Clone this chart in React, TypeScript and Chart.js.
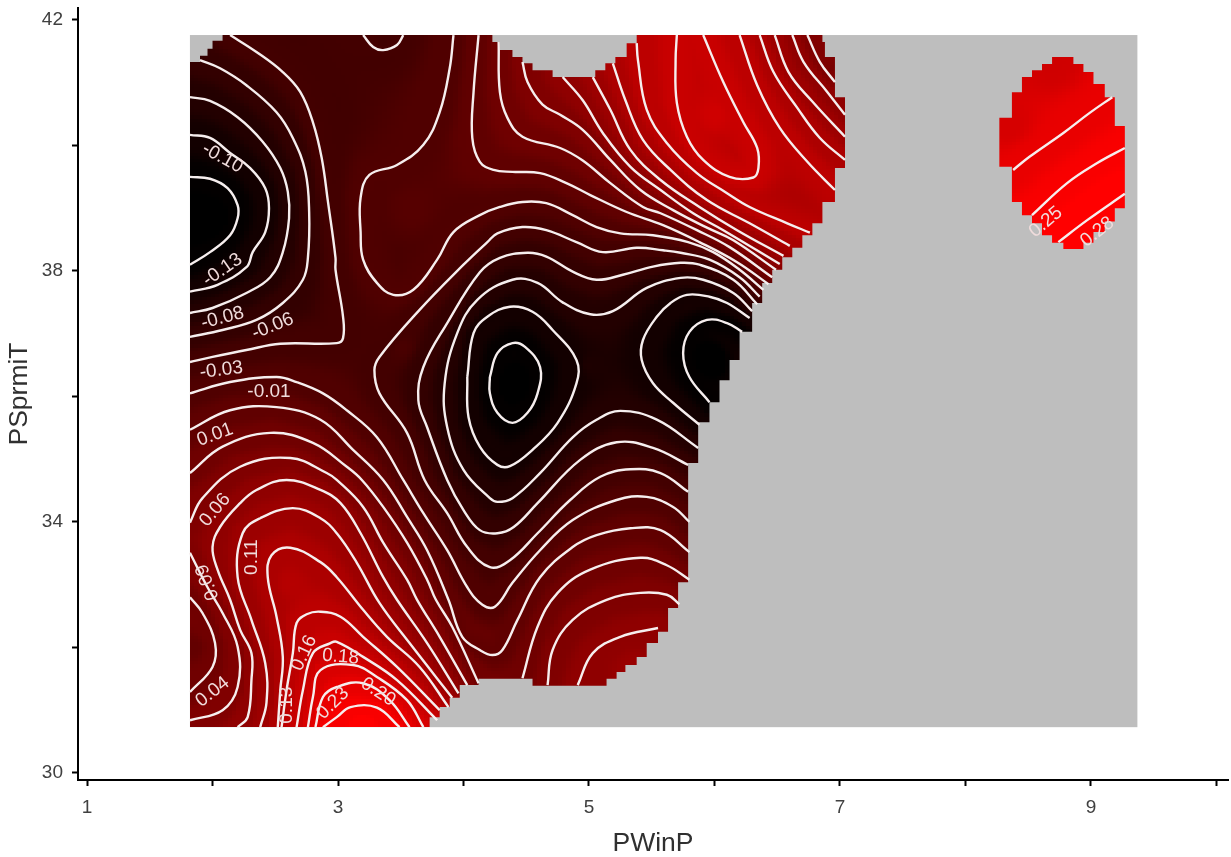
import React, { useEffect, useRef } from "react";
import { Chart, registerables } from "chart.js";

Chart.register(...registerables);

const FONT = "'Liberation Sans', Arial, sans-serif";

// Axes
const xBounds = [0.928, 10.092];
const yBounds = [29.888, 42.191];
const xTickValues = [1, 2, 3, 4, 5, 6, 7, 8, 9, 10];
const xTickLabels = ["1", "", "3", "", "5", "", "7", "", "9", ""];
const yTickValues = [30, 32, 34, 36, 38, 40, 42];
const yTickLabels = ["30", "", "34", "", "38", "", "42"];
const xTitle = "PWinP";
const yTitle = "PSprmiT";

// Extent of the sampled domain
const domainX = [1.82, 9.37];
const domainY = [30.73, 41.76];

// Outline of the region that has data (staircase edge of the grid)
const mainRegion = [
  [1.82, 41.33], [1.9, 41.33], [1.9, 41.43], [1.96, 41.43], [1.96, 41.54], [2.0, 41.54], [2.0, 41.67], [2.08, 41.67], [2.08, 41.76],
  [4.23, 41.76], [4.23, 41.65], [4.29, 41.65], [4.29, 41.52], [4.39, 41.52], [4.39, 41.41], [4.47, 41.41], [4.47, 41.31], [4.55, 41.31], [4.55, 41.2], [4.71, 41.2], [4.71, 41.09],
  [5.05, 41.09], [5.05, 41.2], [5.13, 41.2], [5.13, 41.31], [5.21, 41.31], [5.21, 41.41], [5.3, 41.41], [5.3, 41.63], [5.38, 41.63], [5.38, 41.76],
  [6.86, 41.76], [6.86, 41.65], [6.88, 41.65], [6.88, 41.41], [6.96, 41.41], [6.96, 40.77], [7.04, 40.77], [7.04, 39.64], [6.96, 39.64], [6.96, 39.1], [6.86, 39.1], [6.86, 38.76],
  [6.78, 38.76], [6.78, 38.57], [6.7, 38.57], [6.7, 38.37], [6.62, 38.37], [6.62, 38.22], [6.54, 38.22], [6.54, 38.02], [6.46, 38.02], [6.46, 37.81], [6.38, 37.81], [6.38, 37.49],
  [6.3, 37.49], [6.3, 37.03], [6.2, 37.03], [6.2, 36.58], [6.12, 36.58], [6.12, 36.26], [6.04, 36.26], [6.04, 35.91], [5.96, 35.91], [5.96, 35.59], [5.87, 35.59], [5.87, 34.94],
  [5.79, 34.94], [5.79, 33.04], [5.71, 33.04], [5.71, 32.63], [5.63, 32.63], [5.63, 32.25], [5.55, 32.25], [5.55, 32.07], [5.46, 32.07], [5.46, 31.85], [5.38, 31.85], [5.38, 31.72],
  [5.29, 31.72], [5.29, 31.61], [5.22, 31.61], [5.22, 31.5], [5.14, 31.5], [5.14, 31.39], [4.55, 31.39], [4.55, 31.5], [4.12, 31.5], [4.12, 31.4], [3.97, 31.4], [3.97, 31.2],
  [3.89, 31.2], [3.89, 31.05], [3.81, 31.05], [3.81, 30.89], [3.73, 30.89], [3.73, 30.73], [1.82, 30.73],
];
const islandRegion = [
  [8.69, 41.41], [8.86, 41.41], [8.86, 41.3], [8.94, 41.3], [8.94, 41.17], [9.02, 41.17], [9.02, 40.98], [9.11, 40.98], [9.11, 40.77], [9.19, 40.77], [9.19, 40.31], [9.27, 40.31],
  [9.27, 39.0], [9.19, 39.0], [9.19, 38.79], [9.11, 38.79], [9.11, 38.62], [9.02, 38.62], [9.02, 38.45], [8.94, 38.45], [8.94, 38.35], [8.78, 38.35], [8.78, 38.45], [8.69, 38.45],
  [8.69, 38.57], [8.61, 38.57], [8.61, 38.76], [8.53, 38.76], [8.53, 38.89], [8.45, 38.89], [8.45, 39.1], [8.37, 39.1], [8.37, 39.66], [8.27, 39.66], [8.27, 40.44], [8.37, 40.44],
  [8.37, 40.85], [8.45, 40.85], [8.45, 41.09], [8.53, 41.09], [8.53, 41.2], [8.61, 41.2], [8.61, 41.3], [8.69, 41.3],
];

// Isolines
const m13a = [[1.82, 39.5], [1.98, 39.47], [2.12, 39.32], [2.2, 39.05], [2.2, 38.84], [2.14, 38.57], [1.98, 38.3], [1.82, 38.1]];
const m13b = [[4.21, 36.31], [4.27, 36.69], [4.39, 36.85], [4.49, 36.79], [4.61, 36.47], [4.59, 36.05], [4.51, 35.74], [4.39, 35.58], [4.27, 35.74], [4.21, 36.05], [4.21, 36.31]];
const m13c = [[6.22, 37.03], [6.1, 37.17], [5.94, 37.22], [5.8, 37.03], [5.75, 36.69], [5.8, 36.31], [5.96, 35.91]];
const m10a = [[1.82, 40.17], [1.98, 40.12], [2.14, 39.88], [2.3, 39.64], [2.42, 39.32], [2.45, 39.0], [2.42, 38.62], [2.32, 38.3], [2.27, 38.06], [2.04, 37.78], [1.82, 37.67]];
const m10b = [[4.03, 36.31], [4.08, 37.01], [4.19, 37.27], [4.37, 37.43], [4.55, 37.35], [4.71, 37.06], [4.9, 36.58], [4.9, 36.21], [4.75, 35.58], [4.55, 35.15], [4.37, 34.89], [4.27, 34.91], [4.13, 35.2], [4.04, 35.67], [4.03, 36.31]];
const m10c = [[6.28, 37.25], [6.1, 37.49], [5.96, 37.59], [5.78, 37.62], [5.65, 37.49], [5.54, 37.27], [5.43, 36.9], [5.42, 36.58], [5.51, 36.21], [5.67, 35.9], [5.88, 35.55]];
const m08a = [[1.82, 40.77], [1.98, 40.71], [2.2, 40.45], [2.4, 40.06], [2.54, 39.64], [2.6, 39.26], [2.61, 38.84], [2.56, 38.3], [2.46, 37.9], [2.27, 37.65], [2.0, 37.41], [1.82, 37.33]];
const m08b = [[6.3, 37.36], [6.15, 37.65], [5.91, 37.86], [5.73, 37.89], [5.46, 37.73], [5.19, 37.36], [5.01, 37.31], [4.79, 37.5], [4.59, 37.81], [4.39, 37.86], [4.11, 37.54], [3.95, 37.01], [3.85, 36.21], [3.87, 35.51], [4.0, 34.83], [4.21, 34.38], [4.27, 34.32], [4.39, 34.38], [4.61, 34.78], [4.87, 35.35], [5.06, 35.63], [5.25, 35.77], [5.54, 35.63], [5.87, 35.18]];
const m06a = [[1.9, 41.36], [2.06, 41.23], [2.27, 40.96], [2.51, 40.53], [2.64, 40.12], [2.74, 39.58], [2.77, 38.94], [2.76, 38.21], [2.72, 37.86], [2.56, 37.49], [2.35, 37.22], [2.08, 37.06], [1.82, 36.95]];
const m06b = [[6.34, 37.47], [6.15, 37.86], [5.88, 38.1], [5.73, 38.13], [5.51, 38.07], [5.27, 37.94], [5.06, 37.86], [4.87, 37.99], [4.66, 38.23], [4.51, 38.29], [4.29, 38.21], [4.13, 37.98], [3.87, 37.17], [3.68, 36.47], [3.64, 35.94], [3.71, 35.51], [3.87, 34.67], [4.0, 34.19], [4.13, 33.87], [4.27, 33.82], [4.4, 33.92], [4.59, 34.3], [4.93, 34.99], [5.22, 35.27], [5.51, 35.18], [5.79, 34.91]];
const m03a = [[2.14, 41.76], [2.35, 41.49], [2.56, 41.17], [2.7, 40.85], [2.8, 40.37], [2.87, 39.8], [2.92, 39.1], [2.98, 38.21], [2.98, 38.02], [3.04, 37.27], [3.04, 36.93], [2.99, 36.85], [2.54, 36.84], [2.27, 36.74], [2.0, 36.63], [1.82, 36.55]];
const m03b = [[3.2, 41.76], [3.28, 41.57], [3.36, 41.52], [3.47, 41.6], [3.52, 41.76]];
const m03c = [[6.36, 37.59], [6.2, 37.9], [5.96, 38.18], [5.73, 38.29], [5.59, 38.33], [5.38, 38.37], [5.11, 38.3], [4.9, 38.46], [4.66, 38.65], [4.47, 38.7], [4.27, 38.6], [4.19, 38.46], [4.0, 38.1], [3.65, 37.38], [3.33, 36.63], [3.29, 36.42], [3.33, 36.05], [3.55, 35.42], [3.69, 34.67], [3.87, 34.14], [4.03, 33.6], [4.21, 33.28], [4.37, 33.39], [4.59, 33.82], [4.85, 34.35], [5.09, 34.72], [5.33, 34.84], [5.57, 34.78], [5.79, 34.48]];
const m01a = [[1.82, 36.05], [2.14, 36.23], [2.51, 36.31], [2.67, 36.23], [2.88, 36.05], [3.07, 35.78], [3.31, 35.35], [3.52, 34.67], [3.68, 34.14], [3.87, 33.55], [4.03, 32.96], [4.15, 32.68], [4.25, 32.65], [4.39, 33.03], [4.61, 33.55], [4.87, 34.03], [5.22, 34.35], [5.46, 34.4], [5.67, 34.24], [5.8, 34.0]];
const m01b = [[3.92, 41.76], [3.89, 41.23], [3.81, 40.53], [3.68, 40.01], [3.47, 39.69], [3.25, 39.53], [3.18, 39.17], [3.18, 38.62], [3.2, 38.18], [3.31, 37.81], [3.44, 37.62], [3.6, 37.7], [3.79, 38.18], [3.92, 38.62], [4.13, 38.89], [4.29, 39.02], [4.47, 39.1], [4.66, 39.08], [4.87, 38.89], [5.06, 38.7], [5.25, 38.6], [5.51, 38.57], [5.79, 38.46], [5.99, 38.3], [6.2, 38.02], [6.39, 37.7]];
const p01a = [[1.82, 35.47], [2.14, 35.78], [2.51, 35.83], [2.86, 35.63], [3.12, 35.15], [3.36, 34.67], [3.55, 34.08], [3.71, 33.55], [3.88, 32.76], [3.99, 32.17], [4.13, 31.96], [4.23, 31.88], [4.31, 31.96], [4.43, 32.44], [4.61, 33.12], [4.87, 33.6], [5.06, 33.79], [5.33, 33.9], [5.57, 33.87], [5.8, 33.52]];
const p01b = [[4.12, 41.76], [4.08, 40.85], [4.07, 40.12], [4.13, 39.74], [4.24, 39.61], [4.39, 39.58], [4.61, 39.56], [4.82, 39.4], [5.01, 39.21], [5.3, 38.94], [5.59, 38.73], [5.88, 38.46], [6.18, 38.14], [6.43, 37.79]];
const p04a = [[1.82, 34.78], [2.08, 35.2], [2.46, 35.42], [2.8, 35.26], [3.07, 34.88], [3.19, 34.67], [3.36, 34.24], [3.55, 33.67], [3.71, 33.08], [3.78, 32.76], [3.91, 32.33], [4.12, 31.43]];
const p04b = [[4.47, 31.51], [4.59, 32.33], [4.75, 32.87], [5.01, 33.24], [5.41, 33.43], [5.62, 33.31], [5.8, 33.08]];
const p04c = [[1.82, 32.8], [1.92, 32.55], [2.02, 32.07], [2.0, 31.69], [1.82, 31.29]];
const p04d = [[4.28, 41.65], [4.29, 40.85], [4.35, 40.44], [4.47, 40.14], [4.77, 39.96], [4.95, 39.76], [5.17, 39.4], [5.43, 39.02], [5.57, 38.92], [5.86, 38.65], [6.12, 38.38], [6.46, 37.9]];
const p06a = [[1.82, 33.99], [1.92, 34.38], [2.22, 34.88], [2.62, 35.02], [2.91, 34.78], [2.99, 34.67], [3.2, 34.24], [3.36, 33.67], [3.55, 33.08], [3.63, 32.76], [3.81, 32.17], [4.03, 31.4]];
const p06b = [[1.82, 33.51], [1.96, 32.96], [2.08, 32.55], [2.2, 32.01], [2.2, 31.37], [2.08, 31.0], [1.82, 30.84]];
const p06c = [[4.67, 31.4], [4.71, 31.96], [4.87, 32.44], [5.14, 32.76], [5.41, 32.87], [5.62, 32.84], [5.72, 32.69]];
const p06d = [[4.47, 41.33], [4.51, 41.01], [4.63, 40.65], [4.77, 40.49], [4.95, 40.25], [5.17, 39.77], [5.41, 39.29], [5.67, 38.97], [5.94, 38.69], [6.15, 38.49], [6.49, 38.02]];
const p06e = [[6.74, 41.76], [6.84, 41.33], [6.96, 41.01]];
const p09a = [[2.2, 30.73], [2.28, 30.89], [2.31, 31.48], [2.31, 31.91], [2.22, 32.28], [2.14, 32.76], [2.04, 33.24], [2.0, 33.6], [2.06, 33.92], [2.22, 34.3], [2.35, 34.51], [2.59, 34.67], [2.86, 34.51], [3.02, 34.3], [3.18, 33.82], [3.36, 33.12], [3.47, 32.76], [3.71, 32.07], [3.96, 31.27]];
const p09b = [[4.91, 31.4], [5.03, 31.91], [5.25, 32.17], [5.55, 32.31]];
const p09c = [[4.79, 41.09], [4.95, 40.72], [5.11, 40.2], [5.33, 39.66], [5.57, 39.29], [5.83, 38.92], [6.07, 38.65], [6.52, 38.11]];
const p09d = [[6.62, 41.76], [6.71, 41.33], [6.9, 40.85], [7.04, 40.49]];
const p11a = [[2.38, 30.73], [2.43, 31.12], [2.42, 31.75], [2.31, 32.44], [2.2, 33.12], [2.24, 33.82], [2.38, 34.06], [2.64, 34.22], [2.86, 34.06], [2.99, 33.82], [3.15, 33.35], [3.33, 32.71], [3.57, 32.07], [3.91, 31.2]];
const p11b = [[5.03, 41.09], [5.17, 40.57], [5.33, 39.93], [5.57, 39.45], [5.88, 39.02], [6.18, 38.65], [6.55, 38.24]];
const p11c = [[6.48, 41.76], [6.59, 41.17], [6.78, 40.7], [7.04, 40.14]];
const p13a = [[2.52, 30.73], [2.54, 31.32], [2.56, 31.85], [2.51, 32.49], [2.44, 33.12], [2.47, 33.47], [2.62, 33.59], [2.86, 33.36], [2.99, 33.12], [3.2, 32.6], [3.39, 32.17], [3.65, 31.69], [3.88, 31.05]];
const p13b = [[5.19, 41.31], [5.29, 40.72], [5.43, 40.09], [5.65, 39.61], [5.94, 39.13], [6.28, 38.76], [6.6, 38.4]];
const p13c = [[6.36, 41.76], [6.47, 41.17], [6.66, 40.6], [6.84, 40.12], [7.04, 39.77]];
const p16a = [[2.55, 30.73], [2.59, 31.32], [2.64, 31.91], [2.67, 32.39], [2.75, 32.53], [2.86, 32.57], [3.02, 32.49], [3.2, 32.17], [3.47, 31.69], [3.81, 31.0]];
const p16b = [[5.38, 41.63], [5.39, 41.36], [5.46, 40.57], [5.62, 40.04], [5.86, 39.56], [6.1, 39.24], [6.28, 39.02], [6.58, 38.76], [6.76, 38.61]];
const p16c = [[6.2, 41.76], [6.34, 40.96], [6.52, 40.28], [6.74, 39.74], [6.96, 39.29]];
const p18a = [[2.67, 30.73], [2.72, 31.32], [2.8, 31.91], [2.94, 32.07], [2.99, 32.09], [3.2, 31.85], [3.47, 31.48], [3.79, 30.84]];
const p18b = [[5.7, 41.76], [5.69, 41.36], [5.7, 40.68], [5.78, 40.14], [5.91, 39.77], [6.12, 39.5], [6.31, 39.49], [6.35, 39.64], [6.34, 39.96], [6.23, 40.37], [6.07, 41.01], [5.91, 41.76]];
const p20a = [[2.76, 30.73], [2.8, 31.21], [2.86, 31.64], [3.12, 31.72], [3.31, 31.53], [3.55, 31.16], [3.68, 30.73]];
const p23a = [[2.82, 30.73], [2.88, 31.21], [2.99, 31.37], [3.2, 31.43], [3.41, 31.16], [3.57, 30.73]];
const p23b = [[8.38, 39.61], [8.51, 39.82], [8.78, 40.2], [8.99, 40.52], [9.17, 40.77]];
const p25a = [[2.88, 30.73], [2.99, 30.89], [3.1, 31.05], [3.31, 31.04], [3.49, 30.73]];
const p25b = [[8.53, 38.89], [8.81, 39.4], [9.05, 39.72], [9.27, 39.96]];
const p28a = [[8.74, 38.46], [8.97, 38.81], [9.27, 39.23]];

const isolines: [number, number[][]][] = [
  [-0.13, m13a], [-0.13, m13b], [-0.13, m13c],
  [-0.105, m10a], [-0.105, m10b], [-0.105, m10c],
  [-0.08, m08a], [-0.08, m08b],
  [-0.055, m06a], [-0.055, m06b],
  [-0.03, m03a], [-0.03, m03b], [-0.03, m03c],
  [-0.01, m01a], [-0.01, m01b],
  [0.015, p01a], [0.015, p01b],
  [0.04, p04a], [0.04, p04b], [0.04, p04c], [0.04, p04d],
  [0.065, p06a], [0.065, p06b], [0.065, p06c], [0.065, p06d], [0.065, p06e],
  [0.09, p09a], [0.09, p09b], [0.09, p09c], [0.09, p09d],
  [0.11, p11a], [0.11, p11b], [0.11, p11c],
  [0.135, p13a], [0.135, p13b], [0.135, p13c],
  [0.16, p16a], [0.16, p16b], [0.16, p16c],
  [0.18, p18a], [0.18, p18b],
  [0.205, p20a],
  [0.23, p23a], [0.23, p23b],
  [0.255, p25a], [0.255, p25b],
  [0.28, p28a],
];

// Extra spot readings: the field value inside areas no isoline crosses
const spotX = [1.85, 2.0, 4.4, 5.95, 6.0, 3.2, 8.7, 8.35, 9.2, 8.9, 1.85, 2.6, 5.35, 3.36, 6.92, 3.5, 3.6, 5.0];
const spotY = [38.8, 38.8, 36.2, 36.6, 40.5, 30.75, 41.3, 40.3, 38.9, 38.4, 32.0, 33.0, 31.7, 41.6, 41.2, 36.8, 39.0, 36.5];
const spotZ = [-0.16, -0.15, -0.155, -0.15, 0.19, 0.28, 0.19, 0.2, 0.3, 0.3, 0.02, 0.15, 0.105, -0.035, 0.05, -0.02, 0.0, -0.09];

// Contour labels
const labelTexts = ["-0.10", "-0.13", "-0.08", "-0.06", "-0.03", "-0.01", "0.01", "0.06", "0.09", "0.11", "0.16", "0.13", "0.18", "0.20", "0.23", "0.04", "0.25", "0.28"];
const labelX = [2.08, 2.08, 2.08, 2.48, 2.07, 2.45, 2.02, 2.02, 1.96, 2.31, 2.73, 2.59, 3.02, 3.32, 2.96, 2.0, 8.64, 9.05];
const labelY = [39.8, 38.02, 37.25, 37.12, 36.42, 36.07, 35.39, 34.19, 33.04, 33.44, 31.91, 31.08, 31.85, 31.29, 31.11, 31.29, 38.78, 38.62];
const labelAngle = [29, -35, -15, -22, -7, 0, -20, -50, -110, -90, -65, -90, 5, 33, -45, -38, -40, -38];

const gridStepX = 1 / 30;
const gridStepY = 1 / 20;

const redFor = (z: number) => {
  const t = Math.max(0, Math.min(1, (z + 0.135) / 0.4));
  return `rgb(${Math.round(t * 255)},0,0)`;
};

const tracePolygon = (ctx: any, sx: any, sy: any, poly: number[][]) => {
  poly.forEach(([x, y], i) => {
    const px = sx.getPixelForValue(x);
    const py = sy.getPixelForValue(y);
    if (i === 0) ctx.moveTo(px, py);
    else ctx.lineTo(px, py);
  });
  ctx.closePath();
};

const fieldPlugin = {
  id: "field",
  beforeDatasetsDraw(chart: any) {
    const { ctx, scales } = chart;
    const sx = scales.x;
    const sy = scales.y;
    const X = (v: number) => sx.getPixelForValue(v);
    const Y = (v: number) => sy.getPixelForValue(v);
    ctx.save();
    ctx.fillStyle = "#bebebe";
    ctx.fillRect(X(domainX[0]), Y(domainY[1]), X(domainX[1]) - X(domainX[0]), Y(domainY[0]) - Y(domainY[1]));

    const build = (poly: number[][], keep: (x: number) => boolean) => {
      const lines = isolines
        .filter(([, pts]) => keep(pts[0][0]))
        .map(([z, pts]) => ({ z, p: pts.map(([a, b]) => [X(a), Y(b)]) }));
      const spots = spotX
        .map((x, i) => ({ x: X(x), y: Y(spotY[i]), z: spotZ[i], keep: keep(x) }))
        .filter((s) => s.keep);
      const xs = poly.map((p) => p[0]);
      const ys = poly.map((p) => p[1]);
      const x0 = Math.min(...xs);
      const x1 = Math.max(...xs);
      const y0 = Math.min(...ys);
      const y1 = Math.max(...ys);
      ctx.save();
      ctx.beginPath();
      tracePolygon(ctx, sx, sy, poly);
      ctx.clip();
      const nx = Math.ceil((x1 - x0) / gridStepX);
      const ny = Math.ceil((y1 - y0) / gridStepY);
      for (let i = 0; i < nx; i++) {
        const l = Math.round(X(x0 + i * gridStepX));
        const r = Math.round(X(x0 + (i + 1) * gridStepX));
        const cx = (l + r) / 2;
        for (let j = 0; j < ny; j++) {
          const b = Math.round(Y(y0 + j * gridStepY));
          const t = Math.round(Y(y0 + (j + 1) * gridStepY));
          const cy = (b + t) / 2;
          let sw = 0;
          let sz = 0;
          for (const ln of lines) {
            let best = 1e12;
            const p = ln.p;
            for (let k = 0; k + 1 < p.length; k++) {
              const ax = p[k][0];
              const ay = p[k][1];
              const dx = p[k + 1][0] - ax;
              const dy = p[k + 1][1] - ay;
              const len = dx * dx + dy * dy || 1;
              let u = ((cx - ax) * dx + (cy - ay) * dy) / len;
              u = u < 0 ? 0 : u > 1 ? 1 : u;
              const ex = ax + u * dx - cx;
              const ey = ay + u * dy - cy;
              const d = ex * ex + ey * ey;
              if (d < best) best = d;
            }
            const w = 1 / Math.pow(best + 0.5, 1.5);
            sw += w;
            sz += w * ln.z;
          }
          for (const s of spots) {
            const ex = s.x - cx;
            const ey = s.y - cy;
            const w = 1 / Math.pow(ex * ex + ey * ey + 0.5, 1.5);
            sw += w;
            sz += w * s.z;
          }
          ctx.fillStyle = redFor(sz / sw);
          ctx.fillRect(l, t, r - l, b - t);
        }
      }
      ctx.restore();
    };
    build(mainRegion, (x) => x < 7.5);
    build(islandRegion, (x) => x >= 7.5);
    ctx.restore();
  },
  afterDatasetsDraw(chart: any) {
    const { ctx, scales } = chart;
    ctx.save();
    ctx.font = `19px ${FONT}`;
    ctx.fillStyle = "#f0dcdc";
    ctx.textAlign = "center";
    ctx.textBaseline = "middle";
    labelTexts.forEach((text, i) => {
      ctx.save();
      ctx.translate(scales.x.getPixelForValue(labelX[i]), scales.y.getPixelForValue(labelY[i]));
      ctx.rotate((labelAngle[i] * Math.PI) / 180);
      ctx.fillText(text, 0, 0);
      ctx.restore();
    });
    ctx.restore();
  },
};

const noPadding = (s: any) => {
  s.paddingTop = 0;
  s.paddingBottom = 0;
  s.paddingLeft = 0;
  s.paddingRight = 0;
};

export default function App() {
  const ref = useRef<HTMLCanvasElement>(null);
  useEffect(() => {
    const chart = new Chart(ref.current as HTMLCanvasElement, {
      type: "scatter",
      data: {
        datasets: isolines.map(([z, pts]) => ({
          label: String(z),
          data: pts.map(([x, y]) => ({ x, y })),
          showLine: true,
          borderColor: "#f6eeee",
          borderWidth: 2.4,
          pointRadius: 0,
          tension: 0.4,
          fill: false,
        })),
      },
      options: {
        animation: false,
        responsive: false,
        layout: { padding: { top: 8, right: 3, left: 0, bottom: 0 } },
        plugins: { legend: { display: false }, tooltip: { enabled: false } },
        scales: {
          x: {
            type: "linear",
            min: xBounds[0],
            max: xBounds[1],
            afterBuildTicks: (s: any) => {
              s.ticks = xTickValues.map((value) => ({ value }));
            },
            afterFit: (s: any) => {
              s.height = 77;
              noPadding(s);
            },
            grid: { drawOnChartArea: false, color: "#000", tickLength: 6, tickWidth: 2 },
            border: { color: "#000", width: 2 },
            ticks: {
              autoSkip: false,
              maxRotation: 0,
              padding: 10,
              color: "#404040",
              font: { family: FONT, size: 19 },
              callback: (v: any) => xTickLabels[xTickValues.indexOf(v)] ?? "",
            },
            title: { display: true, text: xTitle, color: "#303030", font: { family: FONT, size: 26.5, lineHeight: 1 }, padding: 0 },
          },
          y: {
            type: "linear",
            min: yBounds[0],
            max: yBounds[1],
            afterBuildTicks: (s: any) => {
              s.ticks = yTickValues.map((value) => ({ value }));
            },
            afterFit: (s: any) => {
              s.width = 78;
              noPadding(s);
            },
            grid: { drawOnChartArea: false, color: "#000", tickLength: 6, tickWidth: 2 },
            border: { color: "#000", width: 2 },
            ticks: {
              autoSkip: false,
              padding: 9,
              color: "#404040",
              font: { family: FONT, size: 19 },
              callback: (v: any) => yTickLabels[yTickValues.indexOf(v)] ?? "",
            },
            title: { display: true, text: yTitle, color: "#303030", font: { family: FONT, size: 26.5 }, padding: { top: 4, bottom: 4 } },
          },
        },
      },
      plugins: [fieldPlugin],
    } as any);
    return () => chart.destroy();
  }, []);
  return (
    <canvas
      ref={ref}
      width={1231}
      height={857}
      style={{ position: "fixed", left: 0, top: 0, display: "block", background: "#fff" }}
    />
  );
}
